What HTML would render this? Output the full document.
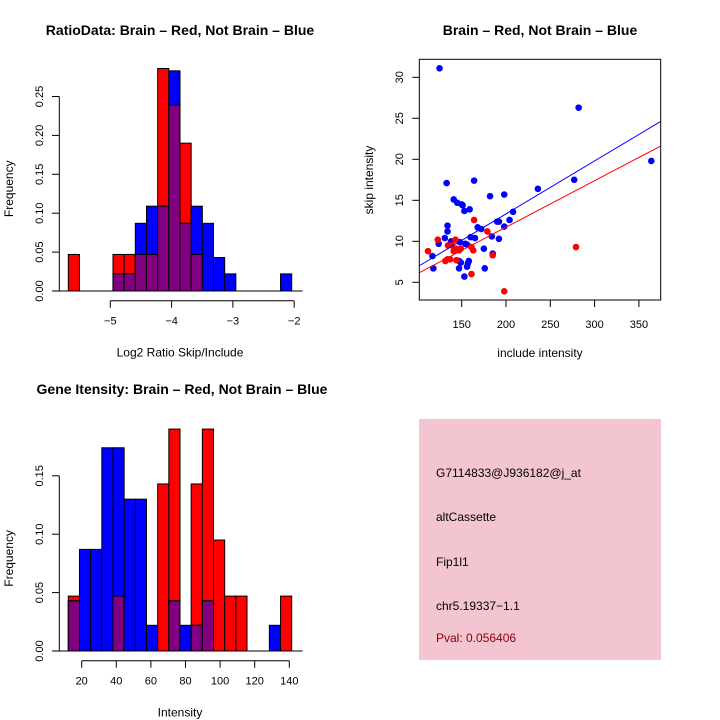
<!DOCTYPE html>
<html><head><meta charset="utf-8"><style>
html,body{margin:0;padding:0;background:#fff;}
svg{display:block;font-family:"Liberation Sans",sans-serif;}
</style></head><body>
<svg id="fig" width="720" height="720" viewBox="0 0 720 720">
<rect width="720" height="720" fill="#fff"/>
<text x="180" y="35" text-anchor="middle" font-size="14" font-weight="bold">RatioData: Brain – Red, Not Brain – Blue</text>
<text x="540" y="35" text-anchor="middle" font-size="14" font-weight="bold">Brain – Red, Not Brain – Blue</text>
<text x="182" y="394" text-anchor="middle" font-size="14" font-weight="bold">Gene Itensity: Brain – Red, Not Brain – Blue</text>
<g id="h1"></g><g id="sc"></g><g id="h2"></g>
<g>
<rect x="419" y="419" width="242" height="241" fill="#f3c5d0"/>
<text x="436" y="477" font-size="12">G7114833@J936182@j_at</text>
<text x="436" y="521" font-size="12">altCassette</text>
<text x="436" y="566" font-size="12">Fip1l1</text>
<text x="436" y="610" font-size="12">chr5.19337−1.1</text>
<text x="436" y="642" font-size="12" fill="#8b0000">Pval: 0.056406</text>
</g>
</svg>
<script>
// Ratio histogram data (20 bins)
const ratioRed  = [0.047,0,0,0,0.047,0.047,0.047,0.047,0.286,0.239,0.19,0.047,0,0,0,0,0,0,0,0];
const ratioBlue = [0,0,0,0,0.022,0.022,0.087,0.109,0.109,0.283,0.087,0.109,0.087,0.043,0.022,0,0,0,0,0.022];
const ratioXTicks = [-5,-4,-3,-2];
const ratioYTicks = [0,0.05,0.10,0.15,0.20,0.25];
// Intensity histogram data (20 bins)
const intRed  = [0.047,0,0,0,0.047,0,0,0,0.143,0.19,0,0.143,0.19,0.095,0.047,0.047,0,0,0,0.047];
const intBlue = [0.043,0.087,0.087,0.174,0.174,0.13,0.13,0.022,0,0.043,0.022,0.022,0.043,0,0,0,0,0,0.022,0];
const intXTicks = [20,40,60,80,100,120,140];
const intYTicks = [0,0.05,0.10,0.15];
// Scatter data
const blueX = [125,282,364,277,164,133,236,198,182,141,145,150,151,153,159,208,204,190,192,198,168,172,134,134,184,160,165,192,131,124,138,148,154,156,117,175,185,118,147,149,158,157,147,156,176,153];
const blueY = [31.1,26.3,19.8,17.5,17.4,17.1,16.4,15.7,15.5,15.1,14.7,14.5,14.4,13.7,13.9,13.6,12.6,12.4,12.4,11.8,11.7,11.5,11.9,11.2,10.6,10.5,10.4,10.3,10.4,9.7,10.0,9.9,9.7,9.6,8.2,9.1,8.5,6.7,7.6,7.4,7.6,7.3,6.7,6.9,6.7,5.7];
const redX = [112,123,143,134.5,139,142,144,147,149,141,161,163,131.5,134,137,144,164,179,185,161,279,198];
const redY = [8.8,10.2,10.2,9.5,9.5,9.0,9.1,8.9,9.1,8.8,9.3,8.9,7.6,7.8,7.8,7.7,12.6,11.2,8.3,6.0,9.3,3.9];
const blueFit = [0.42,0.0646];
const redFit = [0.38,0.0567];
const scXTicks = [150,200,250,300,350];
const scYTicks = [5,10,15,20,25,30];

const NS="http://www.w3.org/2000/svg";
function mk(parent,tag,attrs){const e=document.createElementNS(NS,tag);for(const k in attrs)e.setAttribute(k,attrs[k]);parent.appendChild(e);return e;}

function hist(g,red,blue,xTicks,yTicks,xScale,yScale,xAxisY,xLabel,prefix){
  const x0=68.3,w=11.17,base=yScale(0);
  red.forEach((r,i)=>{
    const b=blue[i], xl=x0+i*w;
    if(r>0){const e=mk(g,'rect',{x:xl,y:yScale(r),width:w,height:base-yScale(r),fill:'#ff0000',stroke:'#000','stroke-width':1});
      
      }
    if(b>0){const e=mk(g,'rect',{x:xl,y:yScale(b),width:w,height:base-yScale(b),fill:'#0000ff',stroke:'#000','stroke-width':1});
      
      }
    const m=Math.min(r,b);
    if(m>0){const e=mk(g,'rect',{x:xl,y:yScale(m),width:w,height:base-yScale(m),fill:'#800080',stroke:'#000','stroke-width':1});
      
      }
  });
  mk(g,'line',{x1:x0-11,x2:x0+20*w+11,y1:base,y2:base,stroke:'#000'});
  // x axis
  const xa=xScale(xTicks[0]),xb=xScale(xTicks[xTicks.length-1]);
  mk(g,'line',{x1:xa,x2:xb,y1:xAxisY,y2:xAxisY,stroke:'#000'});
  xTicks.forEach(t=>{
    mk(g,'line',{x1:xScale(t),x2:xScale(t),y1:xAxisY,y2:xAxisY+7,stroke:'#000'});
    const tx=mk(g,'text',{x:xScale(t),y:xAxisY+24,'text-anchor':'middle','font-size':11});
    tx.textContent=String(t).replace('-','−');
    
    
  });
  // y axis
  mk(g,'line',{x1:59.3,x2:59.3,y1:yScale(yTicks[0]),y2:yScale(yTicks[yTicks.length-1]),stroke:'#000'});
  yTicks.forEach(t=>{
    mk(g,'line',{x1:52,x2:59.3,y1:yScale(t),y2:yScale(t),stroke:'#000'});
    const tx=mk(g,'text',{x:0,y:0,'text-anchor':'middle','font-size':11,transform:`translate(43,${yScale(t)}) rotate(-90)`});
    tx.textContent=t.toFixed(2);
    
    
  });
  const xl=mk(g,'text',{x:180,y:xAxisY+56,'text-anchor':'middle','font-size':12});
  xl.textContent=xLabel;
  
  
  const yl=mk(g,'text',{x:0,y:0,'text-anchor':'middle','font-size':12,transform:`translate(13,${(yScale(0)+yScale(yTicks[yTicks.length-1]))/2-5}) rotate(-90)`});
  yl.textContent='Frequency';
  
  
}

hist(document.getElementById('h1'),ratioRed,ratioBlue,ratioXTicks,ratioYTicks,
  v=>110.3+61.3*(v+5), v=>291-v*778, 300.7,'Log2 Ratio Skip/Include','ratio');
hist(document.getElementById('h2'),intRed,intBlue,intXTicks,intYTicks,
  v=>81.7+(v-20)*1.73, v=>651-v*1168, 660.7,'Intensity','intensity');

// scatter
(function(){
  const g=document.getElementById('sc');
  const L=419.3,R=660.7,T=59.3,B=300;
  const xs=v=>461.7+(v-150)*0.886, ys=v=>282.3-(v-5)*8.2;
  const xmin=150+(L-461.7)/0.886, xmax=150+(R-461.7)/0.886;
  blueX.forEach((x,i)=>{const c=mk(g,'circle',{cx:xs(x),cy:ys(blueY[i]),r:3.3,fill:'#0000ff'});
    
    });
  redX.forEach((x,i)=>{const c=mk(g,'circle',{cx:xs(x),cy:ys(redY[i]),r:3.3,fill:'#ff0000'});
    
    });
  const bl=mk(g,'line',{x1:L,x2:R,y1:ys(blueFit[0]+blueFit[1]*xmin),y2:ys(blueFit[0]+blueFit[1]*xmax),stroke:'#0000ff'});
  
  
  const rl=mk(g,'line',{x1:L,x2:R,y1:ys(redFit[0]+redFit[1]*xmin),y2:ys(redFit[0]+redFit[1]*xmax),stroke:'#ff0000'});
  
  
  mk(g,'rect',{x:L,y:T,width:R-L,height:B-T,fill:'none',stroke:'#000'});
  scXTicks.forEach(t=>{
    mk(g,'line',{x1:xs(t),x2:xs(t),y1:B,y2:B+7,stroke:'#000'});
    const tx=mk(g,'text',{x:xs(t),y:B+28,'text-anchor':'middle','font-size':11});
    tx.textContent=t;
    
    
  });
  scYTicks.forEach(t=>{
    mk(g,'line',{x1:L-7,x2:L,y1:ys(t),y2:ys(t),stroke:'#000'});
    const tx=mk(g,'text',{x:0,y:0,'text-anchor':'middle','font-size':11,transform:`translate(403,${ys(t)}) rotate(-90)`});
    tx.textContent=t;
    
    
  });
  const xl=mk(g,'text',{x:540,y:357,'text-anchor':'middle','font-size':12});
  xl.textContent='include intensity';
  
  
  const yl=mk(g,'text',{x:0,y:0,'text-anchor':'middle','font-size':12,transform:'translate(373,180) rotate(-90)'});
  yl.textContent='skip intensity';
  
  
})();
</script>
</body></html>
